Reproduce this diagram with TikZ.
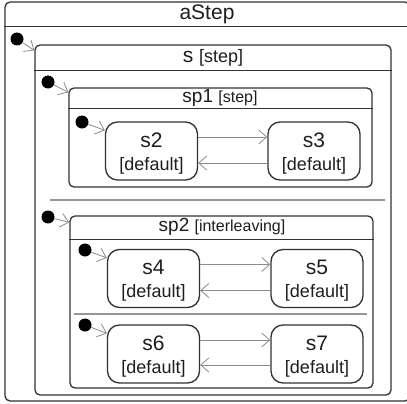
\documentclass[tikz,border=0pt]{standalone}
\usepackage{fontspec}
\setmainfont{Liberation Sans}
\usetikzlibrary{arrows.meta}
\usetikzlibrary{positioning}
\definecolor{boxgray}{RGB}{50,50,50}
\definecolor{arrowgray}{RGB}{140,140,140}
\definecolor{sepgray}{RGB}{150,150,150}
\definecolor{textgray}{RGB}{30,30,30}
\tikzset{region/.style={rectangle,draw=boxgray,line width=1.3pt,rounded corners=5pt,inner sep=0pt}}
\tikzset{titlebar/.style={boxgray,line width=1.3pt}}
\tikzset{state/.style={rectangle,draw=boxgray,line width=1.3pt,rounded corners=12pt,minimum width=92pt,minimum height=58pt,inner sep=0pt,align=center,text=textgray,font=\fontsize{18}{22}\selectfont}}
\tikzset{trans/.style={arrowgray,line width=0.8pt,-{Straight Barb[length=8pt,width=14pt]}}}
\tikzset{initdot/.style={circle,fill=black,minimum size=13pt,inner sep=0pt}}
\tikzset{sepline/.style={sepgray,line width=1.2pt}}
\tikzset{big/.style={text=textgray,font=\fontsize{21}{24}\selectfont}}
\newcommand{\stname}[1]{\rule{0pt}{4pt}\\[-7pt]{\fontsize{21}{22}\selectfont #1}\\[1pt][default]}

\begin{document}
\begin{tikzpicture}[x=1pt,y=-1pt]
  \clip (0,0) rectangle (407,404);
  \fill[white] (0,0) rectangle (407,404);

  % Regions
  \node[region,minimum width=405pt,minimum height=399pt] (aStep) at (207.5,201.5) {};
  \draw[titlebar] ([yshift=-25pt]aStep.north west) -- ([yshift=-25pt]aStep.north east);
  \node[big] (aStepT) at (207,14) {aStep};

  \node[region,minimum width=356pt,minimum height=350pt] (s) at (213,220) {};
  \draw[titlebar] ([yshift=-26pt]s.north west) -- ([yshift=-26pt]s.north east);
  \node[big] (sT) at (213,58) {s {\fontsize{18}{20}\selectfont[step]}};

  \node[region,minimum width=303pt,minimum height=99pt] (sp1) at (220.5,137.5) {};
  \draw[titlebar] ([yshift=-21pt]sp1.north west) -- ([yshift=-21pt]sp1.north east);
  \node[text=textgray,font=\fontsize{19}{22}\selectfont] (sp1T) at (220,98) {sp1 {\fontsize{16}{18}\selectfont[step]}};

  \draw[sepline] (50,200) -- (385,200);

  \node[region,minimum width=303pt,minimum height=172pt] (sp2) at (221.5,302) {};
  \draw[titlebar] ([yshift=-24pt]sp2.north west) -- ([yshift=-24pt]sp2.north east);
  \node[text=textgray,font=\fontsize{19}{22}\selectfont] (sp2T) at (222,227) {sp2 {\fontsize{16}{18}\selectfont[interleaving]}};

  \draw[sepline] (74,314) -- (367,314);

  % States
  \node[state] (s2) at (151.5,151) {\stname{s2}};
  \node[state] (s3) at (314,151) {\stname{s3}};
  \node[state] (s4) at (153.5,278.5) {\stname{s4}};
  \node[state] (s5) at (317,278.5) {\stname{s5}};
  \node[state] (s6) at (153.5,354) {\stname{s6}};
  \node[state] (s7) at (317,354) {\stname{s7}};

  % Initial states
  \node[initdot] (i0) at (17,39) {};
  \node[initdot] (i1) at (48,82) {};
  \node[initdot] (i2) at (82,122) {};
  \node[initdot] (i3) at (48,217) {};
  \node[initdot] (i4) at (85,250) {};
  \node[initdot] (i5) at (85,325) {};
  \draw[trans] (i0) -- ([yshift=-6pt]s.north west);
  \draw[trans] (i1) -- ([yshift=-5pt]sp1.north west);
  \draw[trans] (i2) -- ([yshift=-9pt]s2.north west);
  \draw[trans] (i3) -- ([yshift=-7pt]sp2.north west);
  \draw[trans] (i4) -- ([yshift=-9pt]s4.north west);
  \draw[trans] (i5) -- ([yshift=-9pt]s6.north west);

  % Transitions
  \draw[trans] ([yshift=14pt]s2.east) -- ([yshift=14pt]s3.west);
  \draw[trans] ([yshift=-12pt]s3.west) -- ([yshift=-12pt]s2.east);
  \draw[trans] ([yshift=14pt]s4.east) -- ([yshift=14pt]s5.west);
  \draw[trans] ([yshift=-12pt]s5.west) -- ([yshift=-12pt]s4.east);
  \draw[trans] ([yshift=14pt]s6.east) -- ([yshift=14pt]s7.west);
  \draw[trans] ([yshift=-11pt]s7.west) -- ([yshift=-11pt]s6.east);
\end{tikzpicture}
\end{document}
